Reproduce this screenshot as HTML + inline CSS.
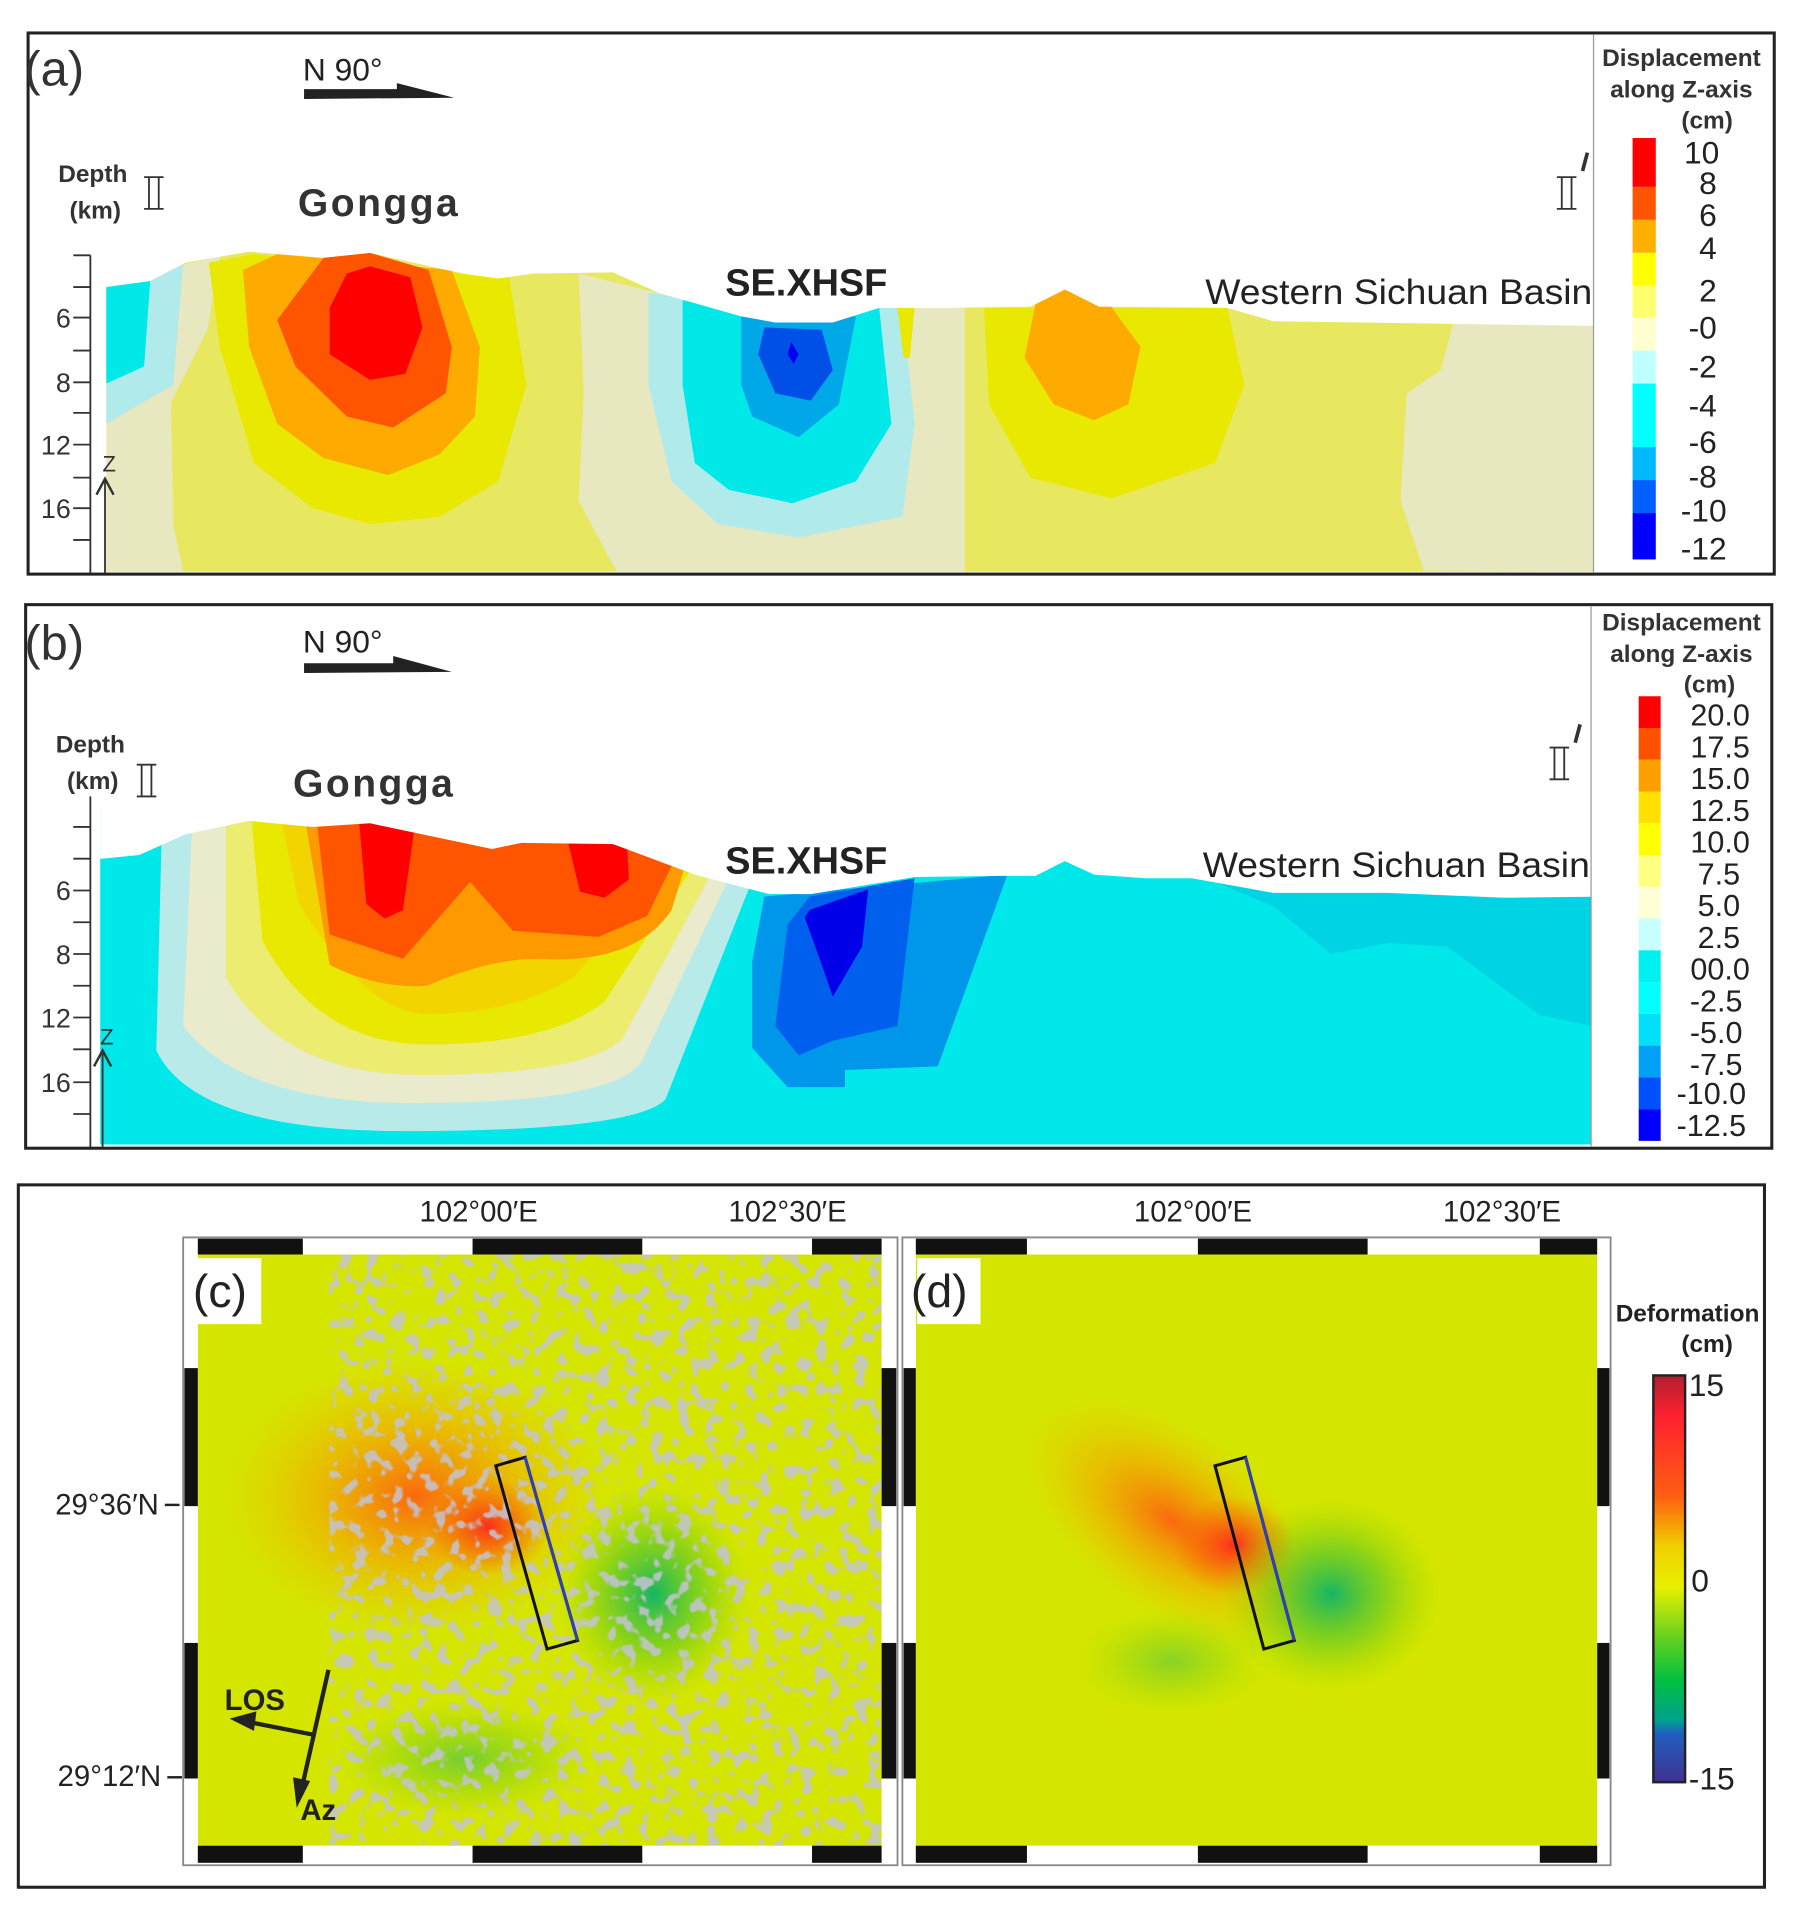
<!DOCTYPE html>
<html><head><meta charset="utf-8"><style>html,body{margin:0;padding:0;background:#fff}svg{display:block}text{font-family:"Liberation Sans",sans-serif}</style></head><body>
<svg width="1795" height="1908" viewBox="0 0 1470 1562" preserveAspectRatio="none" xmlns="http://www.w3.org/2000/svg">
<defs>
<filter id="spk" x="0" y="0" width="1" height="1">
<feTurbulence type="fractalNoise" baseFrequency="0.09" numOctaves="2" seed="3"/>
<feColorMatrix type="matrix" values="0 0 0 0 0.55  0 0 0 0 0.55  0 0 0 0 0.65  0 0 0 9 -4.9"/>
</filter>
<radialGradient id="co" cx="0.5" cy="0.5" r="0.5"><stop offset="0" stop-color="#ff5a10" stop-opacity="0.9"/><stop offset="0.5" stop-color="#f5a000" stop-opacity="0.6"/><stop offset="1" stop-color="#f0c000" stop-opacity="0"/></radialGradient>
<radialGradient id="cg" cx="0.5" cy="0.5" r="0.5"><stop offset="0" stop-color="#00b070" stop-opacity="0.9"/><stop offset="0.5" stop-color="#40c030" stop-opacity="0.5"/><stop offset="1" stop-color="#90d000" stop-opacity="0"/></radialGradient>
<radialGradient id="cr" cx="0.5" cy="0.5" r="0.5"><stop offset="0" stop-color="#ff2020" stop-opacity="0.9"/><stop offset="1" stop-color="#ff5000" stop-opacity="0"/></radialGradient>
<linearGradient id="cb" x1="0" y1="0" x2="0" y2="1"><stop offset="0" stop-color="#b02030"/><stop offset="0.1" stop-color="#ff2030"/><stop offset="0.3" stop-color="#ff6010"/><stop offset="0.42" stop-color="#f0d000"/><stop offset="0.52" stop-color="#e8f000"/><stop offset="0.65" stop-color="#60d020"/><stop offset="0.75" stop-color="#00c040"/><stop offset="0.85" stop-color="#00a090"/><stop offset="0.88" stop-color="#2060c0"/><stop offset="1" stop-color="#403090"/></linearGradient>
<clipPath id="ca"><rect x="87" y="150" width="1218" height="318"/></clipPath>
<clipPath id="cbp"><rect x="82" y="620" width="1221" height="317"/></clipPath>
<clipPath id="cc"><rect x="162" y="1027" width="560" height="484"/></clipPath>
<clipPath id="cd"><rect x="750" y="1027" width="558" height="484"/></clipPath>
<g id="r2"><line x1="0" y1="0" x2="16" y2="0"/><line x1="0" y1="26" x2="16" y2="26"/><line x1="4" y1="0" x2="4" y2="26"/><line x1="12" y1="0" x2="12" y2="26"/></g>
</defs>

<!-- Panel A -->
<rect x="23" y="27" width="1430" height="443" fill="#fff" stroke="#222" stroke-width="2.5"/>
<g clip-path="url(#ca)">
<rect x="87" y="200" width="1218" height="270" fill="#e8e860"/>
<polygon points="87,230 180,210 170,270 140,330 142,430 150,468 87,468" fill="#e8e8c0"/>
<polygon points="87,235 150,215 142,315 87,347" fill="#b0eaea"/>
<polygon points="87,235 123,230 118,300 87,314" fill="#00e8e8"/>
<polygon points="171,215 208,208 417,227 431,315 408,394 360,423 303,429 256,416 208,379 180,284" fill="#e8e800"/>
<polygon points="199,221 227,208 370,221 393,284 389,341 360,372 318,389 265,375 227,347 204,284" fill="#ffaa00"/>
<polygon points="227,262 265,211 303,207 351,221 370,284 365,322 322,350 284,341 242,300" fill="#ff5500"/>
<polygon points="270,252 284,224 303,218 336,227 346,268 332,306 303,311 270,290" fill="#ff0000"/>
<polygon points="474,224 540,240 790,252 790,468 505,468 474,410 478,320" fill="#e8e8c0"/>
<polygon points="531,240 739,252 749,347 739,423 654,440 588,429 550,394 531,315" fill="#b0eaea"/>
<polygon points="559,246 720,252 730,347 701,394 649,412 597,401 569,379 559,315" fill="#00e8e8"/>
<polygon points="607,259 701,259 687,331 654,358 616,341 607,315" fill="#00a8e8"/>
<polygon points="626,268 673,270 682,303 664,328 635,322 621,290" fill="#0050e8"/>
<polygon points="648,280 654,290 650,298 645,290" fill="#0000ee"/>
<polygon points="735,252 749,252 745,293 740,293" fill="#e8e800"/>
<polygon points="806,252 1005,252 1019,315 995,379 910,408 844,391 810,331" fill="#e8e800"/>
<polygon points="848,249 872,237 910,251 934,284 924,331 896,344 863,331 839,293" fill="#ffaa00"/>
<polygon points="1190,265 1313,267 1313,468 1166,467 1147,410 1152,322 1180,303" fill="#e8e8c0"/>
<polygon points="80,150 1310,150 1310,267 1185,265 1043,263 1005,252 900,251 872,237 844,251 777,252 720,252 682,264 635,264 607,259 540,240 502,223 436,224 408,228 379,224 303,207 265,211 227,208 204,206 152,215 123,230 87,235 80,235" fill="#fff"/>
</g>
<line x1="1305" y1="28" x2="1305" y2="469" stroke="#999" stroke-width="1"/>
<line x1="74" y1="209" x2="74" y2="469" stroke="#333" stroke-width="1.5"/>
<g stroke="#333" stroke-width="1.5">
<line x1="60" y1="209" x2="74" y2="209"/><line x1="60" y1="235" x2="74" y2="235"/><line x1="60" y1="260" x2="74" y2="260"/><line x1="60" y1="287" x2="74" y2="287"/><line x1="60" y1="313" x2="74" y2="313"/><line x1="60" y1="338" x2="74" y2="338"/><line x1="60" y1="364" x2="74" y2="364"/><line x1="60" y1="391" x2="74" y2="391"/><line x1="60" y1="416" x2="74" y2="416"/><line x1="60" y1="442" x2="74" y2="442"/>
<line x1="86" y1="392" x2="86" y2="469"/><polyline points="79,405 86,392 93,405" fill="none" stroke-width="2"/>
</g>
<g font-size="22" fill="#333" text-anchor="end"><text x="58" y="268">6</text><text x="58" y="321">8</text><text x="58" y="372">12</text><text x="58" y="424">16</text></g>
<text x="84" y="386" font-size="18" font-family="Liberation Serif" fill="#333">Z</text>
<text x="20" y="70" font-size="40" fill="#333">(a)</text>
<text x="248" y="66" font-size="26" fill="#222">N 90°</text>
<polygon points="249,73 325,73 325,68 372,80 249,81" fill="#222"/>
<text x="76" y="149" font-size="20" font-weight="bold" fill="#333" text-anchor="middle">Depth</text>
<text x="78" y="179" font-size="20" font-weight="bold" fill="#333" text-anchor="middle">(km)</text>
<g stroke="#333" stroke-width="1.5"><use href="#r2" x="118" y="145"/><use href="#r2" x="1275" y="145"/></g>
<line x1="1300" y1="125" x2="1296" y2="140" stroke="#333" stroke-width="3"/>
<text x="244" y="177" font-size="32" font-weight="bold" fill="#333" letter-spacing="2">Gongga</text>
<text x="594" y="242" font-size="31" font-weight="bold" fill="#222">SE.XHSF</text>
<text x="987" y="249" font-size="29" fill="#222" textLength="317" lengthAdjust="spacingAndGlyphs">Western Sichuan Basin</text>
<g font-size="20" font-weight="bold" fill="#333" text-anchor="middle"><text x="1377" y="54">Displacement</text><text x="1377" y="80">along  Z-axis</text><text x="1398" y="105">(cm)</text></g>
<g>
<rect x="1337" y="113" width="19" height="40" fill="#ff0000"/><rect x="1337" y="153" width="19" height="27" fill="#ff5500"/><rect x="1337" y="180" width="19" height="27" fill="#ffb000"/><rect x="1337" y="207" width="19" height="27" fill="#ffff00"/><rect x="1337" y="234" width="19" height="26" fill="#ffff70"/><rect x="1337" y="260" width="19" height="27" fill="#ffffd0"/><rect x="1337" y="287" width="19" height="27" fill="#c0ffff"/><rect x="1337" y="314" width="19" height="52" fill="#00ffff"/><rect x="1337" y="366" width="19" height="27" fill="#00b8ff"/><rect x="1337" y="393" width="19" height="27" fill="#0060ff"/><rect x="1337" y="420" width="19" height="38" fill="#0000ff"/>
</g>
<g font-size="26" font-family="Liberation Serif" fill="#222" text-anchor="end"><text x="1408" y="134">10</text><text x="1406" y="159">8</text><text x="1406" y="185">6</text><text x="1406" y="212">4</text><text x="1406" y="247">2</text><text x="1406" y="277">-0</text><text x="1406" y="309">-2</text><text x="1406" y="341">-4</text><text x="1406" y="371">-6</text><text x="1406" y="399">-8</text><text x="1414" y="427">-10</text><text x="1414" y="458">-12</text></g>

<!-- Panel B -->
<rect x="21" y="495" width="1430" height="445" fill="#fff" stroke="#222" stroke-width="2.5"/>
<g clip-path="url(#cbp)">
<rect x="82" y="660" width="1221" height="277" fill="#00e8ea"/>
<path d="M995,722 L1313,734 L1313,842 L1261,831 L1185,775 L1137,772 L1090,781 L1043,742 Z" fill="#00d4e4"/>
<path d="M133,660 L128,860 Q160,926 330,926 Q520,926 545,900 L640,660 Z" fill="#b8eaea"/>
<path d="M158,660 L150,840 Q200,904 340,903 Q500,903 525,870 L625,660 Z" fill="#eaeacc"/>
<path d="M185,660 L185,800 Q230,880 345,880 Q480,880 510,850 L612,660 Z" fill="#ecec70"/>
<path d="M205,660 L215,770 Q260,855 350,855 Q450,855 495,820 L600,660 Z" fill="#e8e800"/>
<path d="M228,660 L245,740 Q300,830 350,830 Q420,830 470,800 L588,660 Z" fill="#f2d400"/>
<path d="M248,660 L270,790 Q310,810 350,807 Q400,785 440,785 Q520,790 550,745 L576,660 Z" fill="#ff9900"/>
<path d="M258,660 L270,765 L330,785 L385,722 L420,762 L490,767 L530,750 L552,705 L540,660 Z" fill="#ff5500"/>
<path d="M293,660 L300,740 L315,752 L330,745 L342,660 Z" fill="#ff0000"/>
<path d="M458,660 L475,730 L495,735 L515,720 L512,660 Z" fill="#ff0000"/>
<path d="M626,734 L825,716 L768,873 L692,876 L692,890 L645,890 L616,858 L616,787 Z" fill="#0096ea"/>
<path d="M663,734 L749,719 L735,840 L682,852 L654,864 L635,840 L645,757 Z" fill="#0060ee"/>
<path d="M663,745 L711,728 L706,775 L682,816 L673,790 L659,751 Z" fill="#0000e8"/>
<polygon points="75,620 1310,620 1310,734 1232,735 1137,731 1043,731 976,719 938,719 896,716 872,705 848,717 820,717 749,718 664,732 630,732 569,716 502,691 427,690 403,695 303,674 256,677 204,672 152,683 114,700 83,703 75,703" fill="#fff"/>
</g>
<line x1="1303" y1="496" x2="1303" y2="939" stroke="#999" stroke-width="1"/>
<line x1="74" y1="652" x2="74" y2="939" stroke="#333" stroke-width="1.5"/>
<g stroke="#333" stroke-width="1.5">
<line x1="60" y1="677" x2="74" y2="677"/><line x1="60" y1="703" x2="74" y2="703"/><line x1="60" y1="729" x2="74" y2="729"/><line x1="60" y1="755" x2="74" y2="755"/><line x1="60" y1="781" x2="74" y2="781"/><line x1="60" y1="807" x2="74" y2="807"/><line x1="60" y1="833" x2="74" y2="833"/><line x1="60" y1="859" x2="74" y2="859"/><line x1="60" y1="886" x2="74" y2="886"/><line x1="60" y1="912" x2="74" y2="912"/>
<line x1="84" y1="860" x2="84" y2="939"/><polyline points="77,873 84,860 91,873" fill="none" stroke-width="2"/>
</g>
<g font-size="22" fill="#333" text-anchor="end"><text x="58" y="737">6</text><text x="58" y="789">8</text><text x="58" y="841">12</text><text x="58" y="894">16</text></g>
<text x="82" y="855" font-size="18" font-family="Liberation Serif" fill="#333">Z</text>
<text x="20" y="540" font-size="40" fill="#333">(b)</text>
<text x="248" y="534" font-size="26" fill="#222">N 90°</text>
<polygon points="249,543 322,543 322,537 370,550 249,551" fill="#222"/>
<text x="74" y="616" font-size="20" font-weight="bold" fill="#333" text-anchor="middle">Depth</text>
<text x="76" y="646" font-size="20" font-weight="bold" fill="#333" text-anchor="middle">(km)</text>
<g stroke="#333" stroke-width="1.5"><use href="#r2" x="112" y="626"/><use href="#r2" x="1269" y="612"/></g>
<line x1="1294" y1="593" x2="1290" y2="608" stroke="#333" stroke-width="3"/>
<text x="240" y="652" font-size="32" font-weight="bold" fill="#333" letter-spacing="2">Gongga</text>
<text x="594" y="715" font-size="31" font-weight="bold" fill="#222">SE.XHSF</text>
<text x="985" y="718" font-size="29" fill="#222" textLength="317" lengthAdjust="spacingAndGlyphs">Western Sichuan Basin</text>
<g font-size="20" font-weight="bold" fill="#333" text-anchor="middle"><text x="1377" y="516">Displacement</text><text x="1377" y="542">along  Z-axis</text><text x="1400" y="567">(cm)</text></g>
<g>
<rect x="1342" y="570" width="18" height="26" fill="#ff0000"/><rect x="1342" y="596" width="18" height="26" fill="#ff5000"/><rect x="1342" y="622" width="18" height="26" fill="#ffa000"/><rect x="1342" y="648" width="18" height="26" fill="#ffe000"/><rect x="1342" y="674" width="18" height="26" fill="#ffff00"/><rect x="1342" y="700" width="18" height="26" fill="#ffff80"/><rect x="1342" y="726" width="18" height="26" fill="#ffffd8"/><rect x="1342" y="752" width="18" height="26" fill="#c8ffff"/><rect x="1342" y="778" width="18" height="26" fill="#00f0f0"/><rect x="1342" y="804" width="18" height="26" fill="#00ffff"/><rect x="1342" y="830" width="18" height="26" fill="#00e0f8"/><rect x="1342" y="856" width="18" height="26" fill="#00a0f8"/><rect x="1342" y="882" width="18" height="26" fill="#0050ff"/><rect x="1342" y="908" width="18" height="26" fill="#0000ff"/>
</g>
<g font-size="25" font-family="Liberation Serif" fill="#222" text-anchor="end"><text x="1433" y="594">20.0</text><text x="1433" y="620">17.5</text><text x="1433" y="646">15.0</text><text x="1433" y="672">12.5</text><text x="1433" y="698">10.0</text><text x="1425" y="724">7.5</text><text x="1425" y="750">5.0</text><text x="1425" y="776">2.5</text><text x="1433" y="802">00.0</text><text x="1427" y="828">-2.5</text><text x="1427" y="854">-5.0</text><text x="1427" y="880">-7.5</text><text x="1430" y="904">-10.0</text><text x="1430" y="930">-12.5</text></g>

<!-- Panel C/D -->
<rect x="15" y="970" width="1430" height="575" fill="#fff" stroke="#222" stroke-width="2.5"/>
<g font-size="24" fill="#222" text-anchor="middle"><text x="392" y="1000">102°00′E</text><text x="645" y="1000">102°30′E</text><text x="977" y="1000">102°00′E</text><text x="1230" y="1000">102°30′E</text></g>
<g font-size="24" fill="#222" text-anchor="end"><text x="130" y="1240">29°36′N</text><text x="132" y="1462">29°12′N</text></g>
<line x1="135" y1="1232" x2="147" y2="1232" stroke="#222" stroke-width="2"/><line x1="137" y1="1455" x2="149" y2="1455" stroke="#222" stroke-width="2"/>

<!-- map c -->
<rect x="150" y="1013" width="585" height="514" fill="#fff" stroke="#888" stroke-width="1.5"/>
<g clip-path="url(#cc)">
<rect x="162" y="1027" width="560" height="484" fill="#d4e600"/>
<ellipse cx="340" cy="1225" rx="160" ry="115" fill="url(#co)"/>
<ellipse cx="400" cy="1250" rx="50" ry="40" fill="url(#cr)"/>
<ellipse cx="535" cy="1305" rx="80" ry="90" fill="url(#cg)"/>
<ellipse cx="380" cy="1440" rx="110" ry="50" fill="url(#cg)" opacity="0.5"/>
<rect x="270" y="1027" width="452" height="484" filter="url(#spk)" opacity="0.85"/>
<polygon points="406,1200 430,1193 473,1343 448,1350" fill="none" stroke="#111" stroke-width="2.5"/>
<line x1="430" y1="1193" x2="473" y2="1343" stroke="#3040b0" stroke-width="2.5"/>
</g>
<g fill="#111">
<rect x="162" y="1014" width="86" height="13"/><rect x="387" y="1014" width="139" height="13"/><rect x="665" y="1014" width="57" height="13"/>
<rect x="162" y="1511" width="86" height="14"/><rect x="387" y="1511" width="139" height="14"/><rect x="665" y="1511" width="57" height="14"/>
<rect x="151" y="1120" width="11" height="113"/><rect x="151" y="1345" width="11" height="111"/>
<rect x="722" y="1120" width="12" height="113"/><rect x="722" y="1345" width="12" height="111"/>
</g>
<rect x="162" y="1030" width="52" height="54" fill="#fff"/>
<text x="158" y="1070" font-size="38" fill="#222">(c)</text>
<g stroke="#222" stroke-width="3.5" fill="#222">
<line x1="269" y1="1367" x2="248" y2="1460"/><polygon points="240,1455 254,1458 243,1480" stroke="none"/>
<line x1="256" y1="1420" x2="205" y2="1410"/><polygon points="188,1407 210,1401 208,1417" stroke="none"/>
</g>
<text x="184" y="1400" font-size="24" font-weight="bold" fill="#222">LOS</text>
<text x="246" y="1490" font-size="24" font-weight="bold" fill="#222">Az</text>

<!-- map d -->
<rect x="739" y="1013" width="580" height="514" fill="#fff" stroke="#888" stroke-width="1.5"/>
<g clip-path="url(#cd)">
<rect x="750" y="1027" width="558" height="484" fill="#d4e600"/>
<ellipse cx="960" cy="1245" rx="140" ry="75" transform="rotate(35 960 1245)" fill="url(#co)"/>
<ellipse cx="1010" cy="1265" rx="50" ry="40" fill="url(#cr)"/>
<ellipse cx="1090" cy="1305" rx="90" ry="80" fill="url(#cg)"/>
<ellipse cx="960" cy="1360" rx="80" ry="45" fill="url(#cg)" opacity="0.4"/>
<polygon points="995,1200 1020,1193 1060,1343 1035,1350" fill="none" stroke="#111" stroke-width="2.5"/>
<line x1="1020" y1="1193" x2="1060" y2="1343" stroke="#3040b0" stroke-width="2.5"/>
</g>
<g fill="#111">
<rect x="750" y="1014" width="91" height="13"/><rect x="981" y="1014" width="139" height="13"/><rect x="1261" y="1014" width="47" height="13"/>
<rect x="750" y="1511" width="91" height="14"/><rect x="981" y="1511" width="139" height="14"/><rect x="1261" y="1511" width="47" height="14"/>
<rect x="740" y="1120" width="10" height="113"/><rect x="740" y="1345" width="10" height="111"/>
<rect x="1308" y="1120" width="10" height="113"/><rect x="1308" y="1345" width="10" height="111"/>
</g>
<rect x="751" y="1030" width="52" height="54" fill="#fff"/>
<text x="746" y="1070" font-size="38" fill="#222">(d)</text>

<!-- deformation colorbar -->
<text x="1382" y="1082" font-size="20" font-weight="bold" fill="#222" text-anchor="middle">Deformation</text>
<text x="1398" y="1107" font-size="20" font-weight="bold" fill="#222" text-anchor="middle">(cm)</text>
<rect x="1354" y="1126" width="26" height="333" fill="url(#cb)" stroke="#222" stroke-width="2"/>
<g font-size="26" font-family="Liberation Serif" fill="#222"><text x="1383" y="1143">15</text><text x="1385" y="1303">0</text><text x="1383" y="1465">-15</text></g>
</svg>
</body></html>
